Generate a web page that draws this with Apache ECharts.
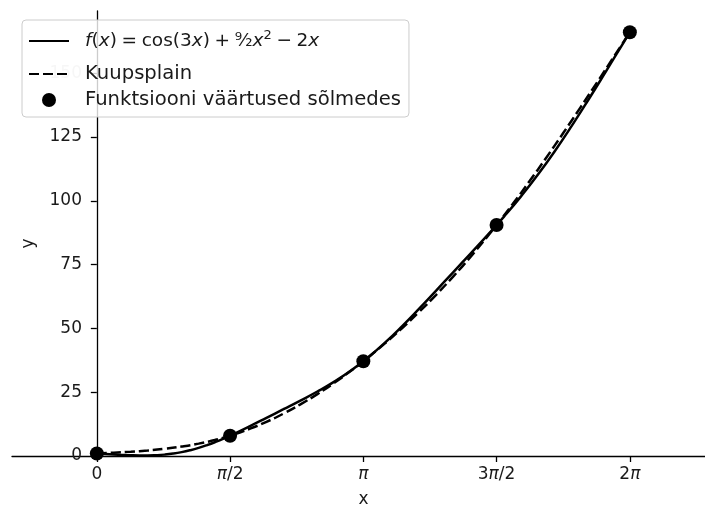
<!DOCTYPE html>
<html>
<head>
<meta charset="utf-8">
<script src="https://cdn.jsdelivr.net/npm/echarts@6/dist/echarts.min.js"></script>
<style>
html,body{margin:0;padding:0;background:#fff;}
#chart{width:705px;height:512px;}
</style>
</head>
<body>
<div id="chart"></div>
<script>
// Exact function curve f(x) = cos(3x) + 9/2 x^2 - 2x (values read/estimated)
var fX = [0,0.1,0.2,0.3,0.4,0.5,0.6,0.7,0.8,0.9,1.0,1.1,1.2,1.3,1.4,1.5,1.6,1.8,2.0,2.2,2.4,2.6,2.8,3.0,3.2,3.4,3.6,3.8,4.0,4.2,4.4,4.6,4.8,5.0,5.2,5.4,5.6,5.8,6.0,6.2,6.2832];
var fY = [1,0.80,0.61,0.43,0.28,0.20,0.19,0.30,0.54,0.94,1.51,2.26,3.18,4.28,5.53,6.91,8.41,11.62,14.96,18.33,21.73,25.27,29.16,33.59,38.70,44.51,50.93,57.77,64.84,71.98,79.13,86.35,93.82,101.74,110.29,119.54,129.46,139.90,150.66,161.55,166.09];
// Cubic spline through the nodes
var sX = [0,0.2,0.4,0.6,0.8,1.0,1.2,1.4,1.5708,1.8,2.0,2.2,2.4,2.6,2.8,3.0,3.1416,3.4,3.6,3.8,4.0,4.2,4.4,4.6,4.7124,4.9,5.1,5.3,5.5,5.7,5.9,6.1,6.2832];
var sY = [1,1.31,1.67,2.15,2.81,3.69,4.85,6.36,7.96,10.62,13.40,16.61,20.24,24.27,28.70,33.50,37.13,44.23,50.15,56.47,63.18,70.31,77.85,85.83,90.51,98.62,107.65,117.02,126.67,136.55,146.59,156.74,166.09];
// Nodes
var nodeX = [0,1.5708,3.1416,4.7124,6.2832];
var nodeY = [1,7.96,37.13,90.51,166.09];
// Ticks
var xTickValues = [0,1.5708,3.1416,4.7124,6.2832];
var xTickLabels = ['0','{it|π}/2','{it|π}','3{it|π}/2','2{it|π}'];
var yTickValues = [0,25,50,75,100,125,150];
var yTickLabels = ['0','25','50','75','100','125','{under|150}'];

var nameF = 'f(x) = cos(3x) + 9/2 x^2 - 2x';
var nameS = 'Kuupsplain';
var nameN = 'Funktsiooni väärtused sõlmedes';

function pairs(xs, ys){ return xs.map(function(x,i){ return [x, ys[i]]; }); }

var FONT = 'DejaVu Sans';
var TXT = '#1a1a1a';
var LF = 19.6;
var MF = 18.5;
var chart = echarts.init(document.getElementById('chart'), null, {renderer:'canvas'});
chart.setOption({
  animation:false,
  backgroundColor:'#fff',
  grid:{left:12, right:-10, top:11, bottom:56, containLabel:false, outerBoundsMode:'none'},
  xAxis:{
    type:'value', min:-1, max:7.287,
    name:'x', nameLocation:'middle', nameGap:35,
    nameTextStyle:{fontFamily:FONT, fontSize:17, color:TXT},
    axisLine:{onZero:true, lineStyle:{color:'#000', width:1.3}},
    axisTick:{show:true, length:6, inside:false, lineStyle:{color:'#000', width:1.3}, customValues:xTickValues},
    axisLabel:{
      customValues:xTickValues, margin:10, fontFamily:FONT, fontSize:17, color:TXT,
      formatter:function(v){ var i = xTickValues.findIndex(function(t){return Math.abs(t-v)<1e-3;}); return i>=0 ? xTickLabels[i] : ''; },
      rich:{it:{fontStyle:'italic', fontFamily:FONT, fontSize:17, color:TXT}}
    },
    splitLine:{show:false}
  },
  yAxis:{
    type:'value', min:0, max:174.4,
    name:'y', nameLocation:'middle', nameGap:-25, nameRotate:90, nameMoveOverlap:false,
    nameTextStyle:{fontFamily:FONT, fontSize:17, color:TXT, padding:[0,20,0,0]},
    axisLine:{onZero:true, lineStyle:{color:'#000', width:1.3}},
    axisTick:{show:true, length:6, lineStyle:{color:'#000', width:1.3}, customValues:yTickValues},
    axisLabel:{
      customValues:yTickValues, margin:-70, fontFamily:FONT, fontSize:17, color:TXT, hideOverlap:false,
      formatter:function(v){ var i = yTickValues.indexOf(Math.round(v)); return i>=0 ? yTickLabels[i] : ''; },
      rich:{under:{fontFamily:FONT, fontSize:17, color:'#d2d2d2'}}
    },
    splitLine:{show:false}
  },
  legend:{
    orient:'vertical', left:22, top:20, z:50, zlevel:1,
    backgroundColor:'rgba(255,255,255,0.8)', borderColor:'#cccccc', borderWidth:1, borderRadius:4,
    padding:[3,8,6,6], itemWidth:40, itemHeight:14, itemGap:4,
    symbolKeepAspect:true,
    data:[
      {name:nameF, itemStyle:{opacity:0}},
      {name:nameS, itemStyle:{opacity:0}},
      {name:nameN}
    ],
    formatter:function(n){
      if(n===nameF) return '{it|f}{m|(}{it|x}{m|)\u2005=\u2005cos(3}{it|x}{m|)\u2005+\u2005}{fr|⁹⁄₂}{it|x}{sup|2}{m|\u2005−\u20052}{it|x}';
      return n;
    },
    textStyle:{fontFamily:FONT, fontSize:LF, color:TXT, lineHeight:22, padding:[0,0,0,11],
      rich:{
        m:{fontFamily:FONT, fontSize:MF, color:TXT, lineHeight:36},
        it:{fontStyle:'italic', fontFamily:FONT, fontSize:MF, color:TXT, lineHeight:36},
        fr:{fontFamily:FONT, fontSize:MF, color:TXT, lineHeight:36},
        sup:{fontFamily:FONT, fontSize:13, color:TXT, lineHeight:14, padding:[0,0,10,0]}
      }
    }
  },
  series:[
    {name:nameF, type:'line', data:pairs(fX,fY), smooth:true, symbol:'none',
     lineStyle:{color:'#000', width:2.5, type:'solid'}, itemStyle:{color:'#000'}, z:2},
    {name:nameS, type:'line', data:pairs(sX,sY), smooth:true, symbol:'none',
     lineStyle:{color:'#000', width:2.5, type:[10,4]}, itemStyle:{color:'#000'}, z:3},
    {name:nameN, type:'scatter', data:pairs(nodeX,nodeY), symbol:'circle', symbolSize:14,
     itemStyle:{color:'#000', opacity:1}, z:4, clip:false}
  ]
});
</script>
</body>
</html>
